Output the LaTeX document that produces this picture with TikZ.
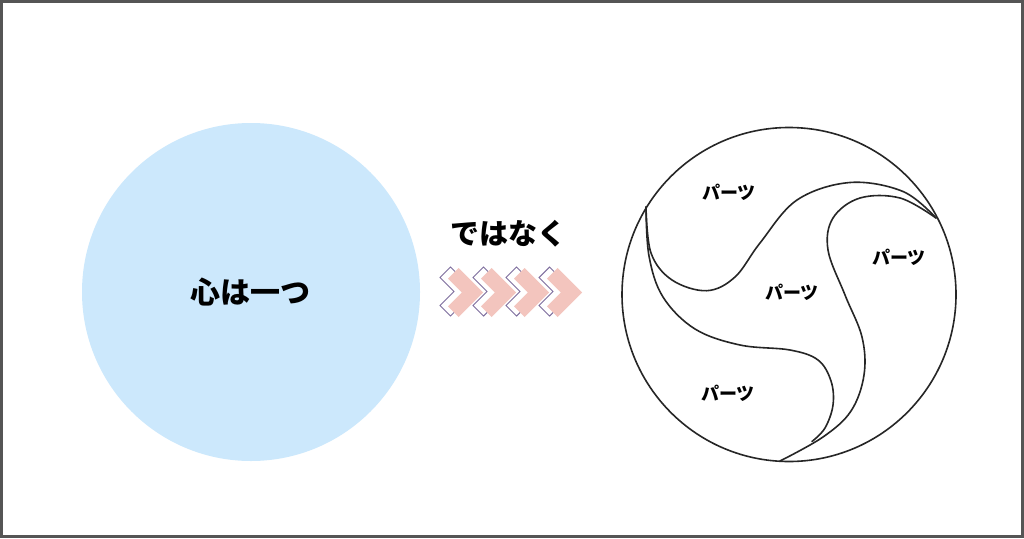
\documentclass[tikz,border=0pt]{standalone}
\usepackage{fontspec}
\newfontfamily\jp{Noto Sans CJK JP}
\definecolor{leftblue}{RGB}{204,232,252}
\definecolor{chevpink}{RGB}{243,197,190}
\definecolor{chevline}{RGB}{126,110,158}
\definecolor{framegray}{RGB}{85,85,85}
\tikzset{
  lbl/.style={font=\jp\bfseries, text=black, inner sep=0pt},
  bigtxt/.style={lbl, font=\jp\bfseries\fontsize{30}{30}\selectfont},
  midtxt/.style={lbl, font=\jp\bfseries\fontsize{29}{29}\selectfont},
  parts/.style={lbl, font=\jp\bfseries\fontsize{18}{18}\selectfont},
  ink/.style={draw=black!85, line width=1.6pt, line join=round, line cap=round},
}
\begin{document}
\begin{tikzpicture}[x=1pt,y=-1pt]
\useasboundingbox (0,0) rectangle (1024,538);
\fill[white] (0,0) rectangle (1024,538);
\draw[framegray, line width=3pt] (1.5,1.5) rectangle (1022.5,536.5);

% left circle
\fill[leftblue] (251,292) circle[radius=169];
\node[bigtxt] (one) at (250,292) {心は一つ};

% middle
\node[midtxt] (notbut) at (508,234) {ではなく};
\def\dd{19.2}\def\hh{5.3}\def\tp{10.6}
\foreach \i in {0,1,2,3}{
  \pgfmathsetmacro{\ox}{464.5+33*\i}
  \draw[chevline, line width=0.9pt, line join=miter]
    (\ox-\dd+\hh, 291.5-\dd-\hh) -- (\ox+\tp, 291.5) -- (\ox-\dd+\hh, 291.5+\dd+\hh)
    -- (\ox-\dd-\hh, 291.5+\dd-\hh) -- (\ox-\tp, 291.5) -- (\ox-\dd-\hh, 291.5-\dd+\hh) -- cycle;
}
\foreach \i in {0,1,2,3}{
  \pgfmathsetmacro{\cx}{472.5+33*\i}
  \fill[chevpink]
    (\cx-\dd+\hh, 292.5-\dd-\hh) -- (\cx+\tp, 292.5) -- (\cx-\dd+\hh, 292.5+\dd+\hh)
    -- (\cx-\dd-\hh, 292.5+\dd-\hh) -- (\cx-\tp, 292.5) -- (\cx-\dd-\hh, 292.5-\dd+\hh) -- cycle;
}

% right circle
\coordinate (A) at (646,207);
\coordinate (B) at (936,218);
\coordinate (C) at (780,461);
\draw[ink] (789,294.5) circle[radius=167];
\draw[ink] plot[smooth, tension=0.6] coordinates {
  (646,207) (651,253) (672,280) (706.7,290.7) (735,277)
  (760,243) (797,200) (850,182.5) (903,191.5) (936,218)};
\draw[ink] plot[smooth, tension=0.6] coordinates {
  (936,218) (900,198) (860,198) (833,218) (828,250) (845,295)
  (862,337) (864,375) (851,411) (823,437) (780,461)};
\draw[ink] plot[smooth, tension=0.6] coordinates {
  (646,207) (649,256) (663,297) (695,329) (740,345) (790,350)
  (818,360) (831,381) (833,405) (825,428) (812,441.5)};

\node[parts] (p1) at (729,192) {パーツ};
\node[parts] (p2) at (792,292) {パーツ};
\node[parts] (p3) at (899,257) {パーツ};
\node[parts] (p4) at (728,393) {パーツ};
\end{tikzpicture}
\end{document}
